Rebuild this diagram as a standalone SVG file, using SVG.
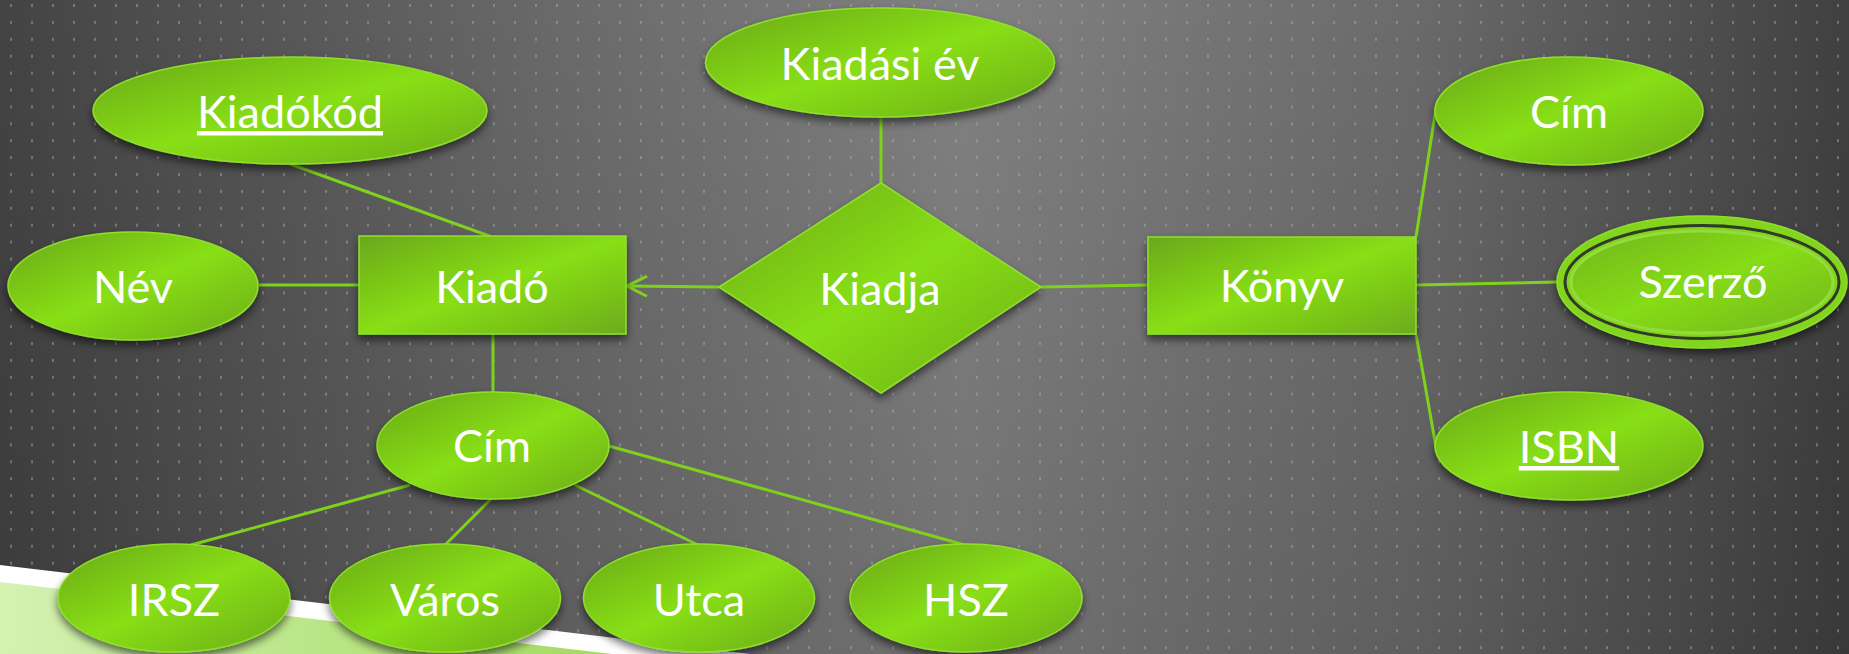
<svg xmlns="http://www.w3.org/2000/svg" width="1849" height="654" viewBox="0 0 1849 654">
<defs>
<linearGradient id="bg" x1="0" y1="0" x2="1" y2="0">
<stop offset="0" stop-color="#434343"/>
<stop offset="0.28" stop-color="#676767"/>
<stop offset="0.52" stop-color="#818181"/>
<stop offset="0.76" stop-color="#6b6b6b"/>
<stop offset="1" stop-color="#404040"/>
</linearGradient>
<linearGradient id="bgv" x1="0" y1="0" x2="0" y2="1">
<stop offset="0" stop-color="#000" stop-opacity="0"/>
<stop offset="1" stop-color="#000" stop-opacity="0.12"/>
</linearGradient>
<pattern id="dots" patternUnits="userSpaceOnUse" width="21" height="16.9">
<rect x="10" y="4" width="2" height="3" fill="#b0b0b0" opacity="0.45"/>
</pattern>
<linearGradient id="band" x1="0" y1="0" x2="1" y2="0">
<stop offset="0" stop-color="#d4f1b2"/>
<stop offset="1" stop-color="#a3db60"/>
</linearGradient>
<linearGradient id="g" x1="0" y1="0" x2="1" y2="1">
<stop offset="0" stop-color="#6aa71c"/>
<stop offset="0.5" stop-color="#88df14"/>
<stop offset="1" stop-color="#6cab1c"/>
</linearGradient>
<linearGradient id="gi" x1="0" y1="0" x2="1" y2="1">
<stop offset="0" stop-color="#72b51c"/>
<stop offset="0.5" stop-color="#86dc16"/>
<stop offset="1" stop-color="#72b51c"/>
</linearGradient>
<filter id="sh" x="-20%" y="-20%" width="140%" height="150%">
<feDropShadow dx="0" dy="5" stdDeviation="4" flood-color="#000" flood-opacity="0.55"/>
</filter>
<marker id="open" markerUnits="userSpaceOnUse" markerWidth="24" markerHeight="24" viewBox="0 0 24 24" refX="22" refY="12" orient="auto">
<path d="M2,2 L22,12 L2,22" fill="none" stroke="#7fd21c" stroke-width="3"/>
</marker>
<style>
.node{fill:url(#g);stroke:#8fe02c;stroke-width:1.5;filter:url(#sh)}
.lbl{font-family:Lato,"Open Sans","DejaVu Sans",sans-serif;font-size:45px;font-weight:400;fill:#ffffff;text-anchor:middle}
.u{text-decoration:underline}
.conn line{stroke:#7fd21c;stroke-width:3;fill:none}
</style>
</defs>

<g id="background">
<rect width="1849" height="654" fill="url(#bg)"/>
<rect width="1849" height="654" fill="url(#bgv)"/>
<rect width="1849" height="654" fill="url(#dots)"/>
<polygon points="0,565 750,654 0,654" fill="#ffffff"/>
<polygon points="0,582 612,654 0,654" fill="url(#band)"/>
</g>

<g id="connectors" class="conn">
<line x1="290" y1="164" x2="492" y2="237"/>
<line x1="259" y1="285" x2="359" y2="285"/>
<line x1="719" y1="287" x2="627" y2="286" marker-end="url(#open)"/>
<line x1="881" y1="117" x2="881" y2="183"/>
<line x1="1041" y1="287" x2="1148" y2="285"/>
<line x1="1416" y1="237" x2="1436" y2="108"/>
<line x1="1416" y1="285" x2="1557" y2="282"/>
<line x1="1416" y1="334" x2="1436" y2="447"/>
<line x1="493" y1="334" x2="493" y2="392"/>
<line x1="410" y1="485" x2="191" y2="545"/>
<line x1="491" y1="499" x2="445" y2="545"/>
<line x1="575" y1="485" x2="698" y2="545"/>
<line x1="609" y1="446" x2="965" y2="545"/>
</g>

<g id="kiadokod">
<ellipse class="node" cx="290" cy="110.5" rx="197" ry="53.5"/>
<text class="lbl u" x="290" y="128">Kiadókód</text>
</g>
<g id="nev">
<ellipse class="node" cx="133" cy="286" rx="125" ry="54"/>
<text class="lbl" x="133" y="303">Név</text>
</g>
<g id="kiado">
<rect class="node" x="359" y="236" width="267" height="98"/>
<text class="lbl" x="492" y="303">Kiadó</text>
</g>
<g id="kiadasi-ev">
<ellipse class="node" cx="880" cy="62.5" rx="174.5" ry="54.5"/>
<text class="lbl" x="880" y="80">Kiadási év</text>
</g>
<g id="kiadja">
<polygon class="node" points="881,183 1041,287 881,393 719,287"/>
<text class="lbl" x="880" y="305">Kiadja</text>
</g>
<g id="konyv">
<rect class="node" x="1148" y="237" width="268" height="97"/>
<text class="lbl" x="1282" y="302">Könyv</text>
</g>
<g id="cim-konyv">
<ellipse class="node" cx="1569" cy="111" rx="134" ry="54"/>
<text class="lbl" x="1569" y="128">Cím</text>
</g>
<g id="szerzo">
<ellipse class="node" cx="1702" cy="282" rx="145" ry="66" style="fill:#82d41e"/>
<ellipse cx="1702" cy="282" rx="137" ry="56.5" fill="none" stroke="#2f3a28" stroke-width="3"/>
<ellipse cx="1702" cy="282" rx="131" ry="51" fill="url(#gi)" stroke="#92dc3c" stroke-width="3"/>
<text class="lbl" x="1703" y="298">Szerző</text>
</g>
<g id="isbn">
<ellipse class="node" cx="1569" cy="446" rx="134" ry="54"/>
<text class="lbl u" x="1569" y="463">ISBN</text>
</g>
<g id="cim-kiado">
<ellipse class="node" cx="493" cy="445.5" rx="116" ry="53.5"/>
<text class="lbl" x="492" y="462">Cím</text>
</g>
<g id="irsz">
<ellipse class="node" cx="174" cy="598" rx="116" ry="54"/>
<text class="lbl" x="174" y="616">IRSZ</text>
</g>
<g id="varos">
<ellipse class="node" cx="445" cy="598" rx="115.5" ry="54"/>
<text class="lbl" x="445" y="616">Város</text>
</g>
<g id="utca">
<ellipse class="node" cx="699" cy="598" rx="115.5" ry="54"/>
<text class="lbl" x="699" y="616">Utca</text>
</g>
<g id="hsz">
<ellipse class="node" cx="966" cy="598" rx="116" ry="54"/>
<text class="lbl" x="966" y="616">HSZ</text>
</g>
</svg>
